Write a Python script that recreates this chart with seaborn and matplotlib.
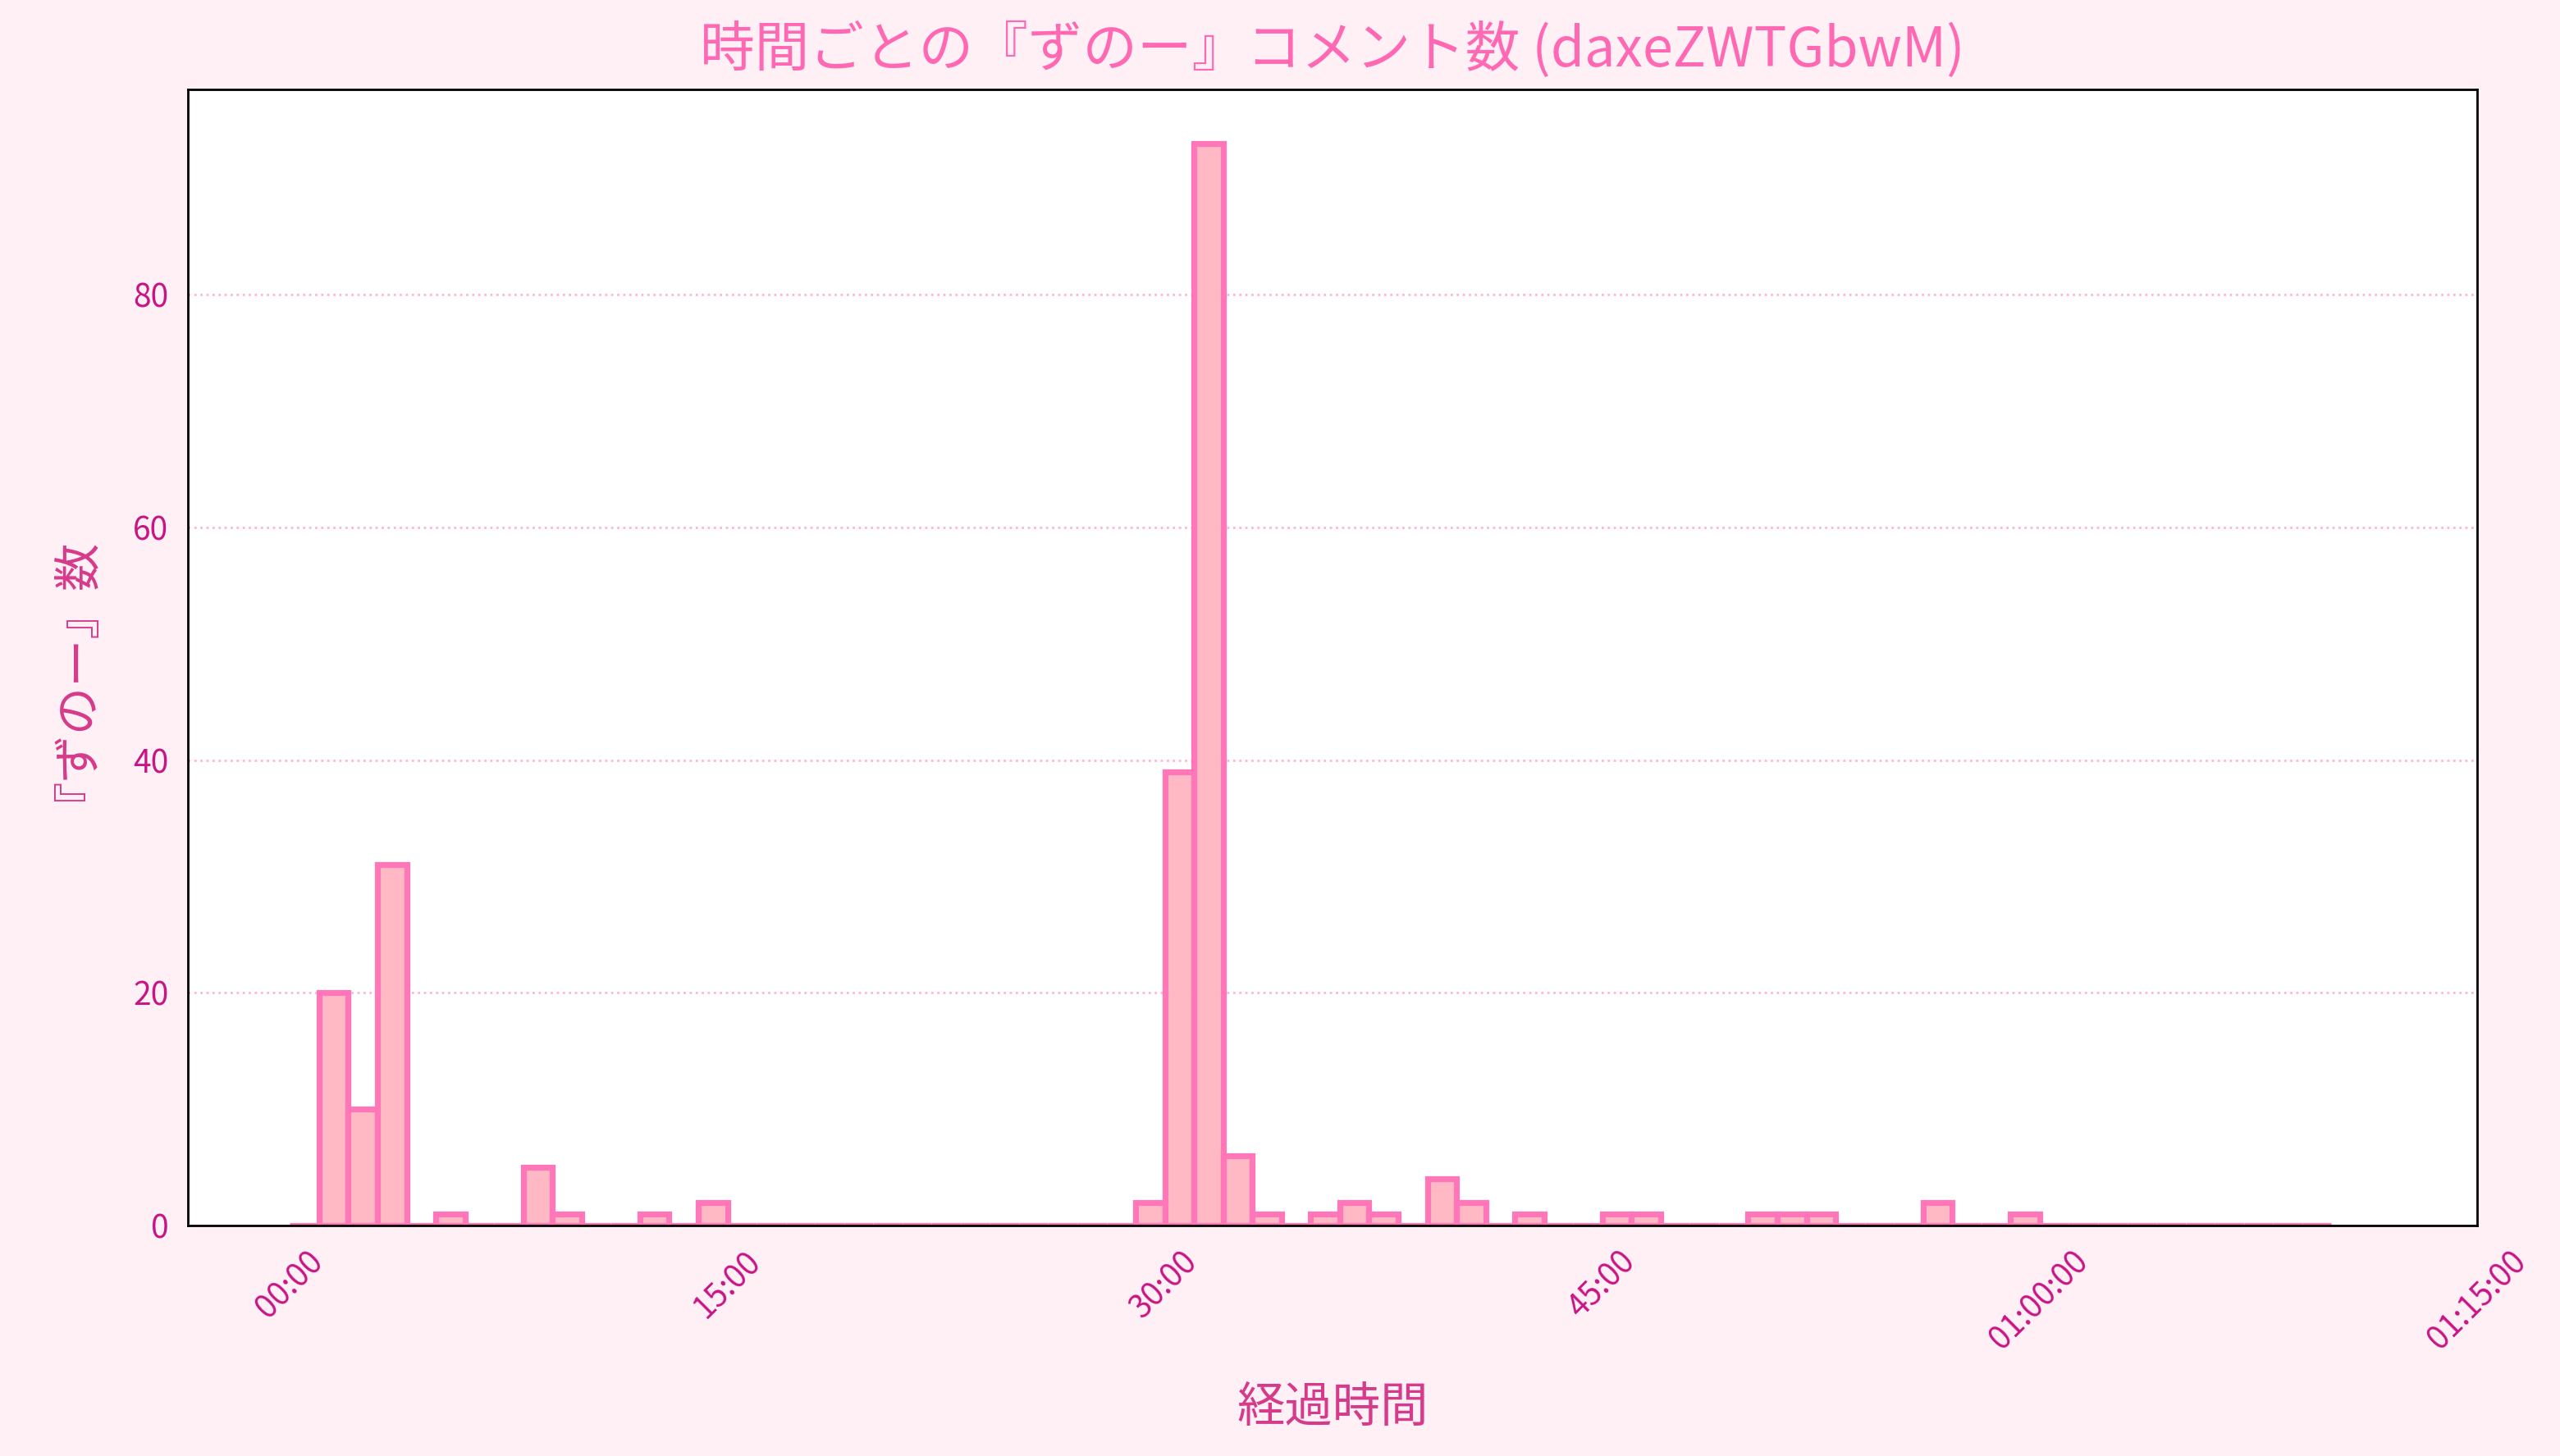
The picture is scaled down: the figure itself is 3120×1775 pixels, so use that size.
import numpy as np
import pandas as pd
import matplotlib
matplotlib.use('Agg')
import matplotlib.pyplot as plt
import matplotlib.ticker as mticker
import seaborn as sns

# one-minute bins, 0..70 min
bin_start_min = list(range(70))
counts = [0, 20, 10, 31, 0, 1, 0, 0, 5, 1,
          0, 0, 1, 0, 2, 0, 0, 0, 0, 0,
          0, 0, 0, 0, 0, 0, 0, 0, 0, 2,
          39, 93, 6, 1, 0, 1, 2, 1, 0, 4,
          2, 0, 1, 0, 0, 1, 1, 0, 0, 0,
          1, 1, 1, 0, 0, 0, 2, 0, 0, 1,
          0, 0, 0, 0, 0, 0, 0, 0, 0, 0]
tick_seconds = [0, 900, 1800, 2700, 3600, 4500]

df = pd.DataFrame({'sec': [m * 60 + 30 for m in bin_start_min], 'n': counts})

sns.set_style('white')
plt.rcParams['font.family'] = ['Noto Sans CJK JP', 'DejaVu Sans']

fig, ax = plt.subplots(figsize=(15.6, 8.875), dpi=200)
fig.patch.set_facecolor('#FFF0F5')
ax.set_facecolor('white')
fig.subplots_adjust(left=229/3120, right=3019/3120, top=1-109/1775, bottom=1-1494/1775)

sns.histplot(data=df, x='sec', weights='n', binwidth=60, binrange=(0, 4200),
             color='#FFB6C1', edgecolor='#FF77B8', linewidth=2.6, alpha=0.95, ax=ax)

def fmt(s, pos=None):
    s = int(round(s))
    h, rem = divmod(s, 3600)
    m, sec = divmod(rem, 60)
    if h > 0:
        return f'{h:02d}:{m:02d}:{sec:02d}'
    return f'{m:02d}:{sec:02d}'

ax.set_xticks(tick_seconds)
ax.xaxis.set_major_formatter(mticker.FuncFormatter(fmt))
ax.tick_params(axis='both', colors='#C71585', labelsize=14, length=5, width=0.9)
plt.setp(ax.get_xticklabels(), rotation=45)
ax.grid(axis='y', linestyle=':', color='#FF69B4', alpha=0.5, linewidth=1)
ax.set_axisbelow(True)
for sp in ax.spines.values():
    sp.set_color('black')
    sp.set_linewidth(1.0)

ax.set_title('時間ごとの『ずのー』コメント数 (daxeZWTGbwM)', color='#FF69B4', fontsize=24, pad=10)
ax.set_xlabel('経過時間', color='#D63A8A', fontsize=21, labelpad=12)
ax.set_ylabel('『ずのー』数', color='#D63A8A', fontsize=21, labelpad=24)

fig.savefig('out.png', dpi=200, facecolor=fig.get_facecolor())
